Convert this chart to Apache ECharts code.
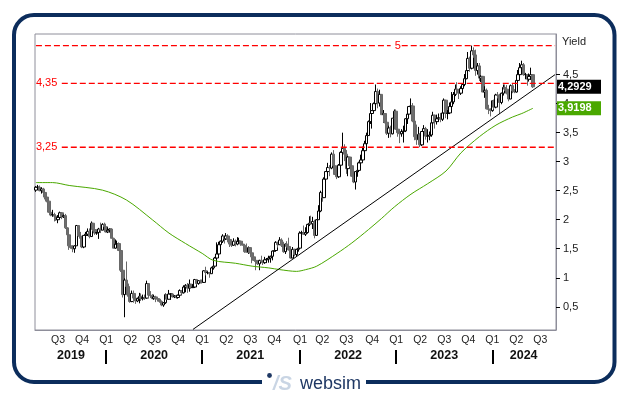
<!DOCTYPE html>
<html>
<head>
<meta charset="utf-8">
<script src="https://cdn.jsdelivr.net/npm/echarts@6/dist/echarts.min.js"></script>
<style>
html, body { margin: 0; padding: 0; background: #fff; }
#main { width: 630px; height: 397px; }
</style>
</head>
<body>
<div id="main"></div>
<script>
// weekly bars, first bar = week of Mon 8 Apr 2019
var firstWeek = Date.UTC(2019, 3, 8);
var totalWeeks = 282;
var firstOpen = 2.51;

var weekClose = [
    2.56,2.56,2.50,2.53,2.47,2.39,2.32,2.13,2.08,2.09,2.06,2.00,2.04,2.12,2.05,2.07,1.86,1.74,1.55,1.52,1.50,1.55,1.90,1.72,1.68,1.53,1.73,1.75,1.80,1.71,1.94,1.83,1.77,1.78,1.84,1.82,1.92,1.88,
    1.79,1.82,1.84,1.68,1.51,1.58,1.59,1.47,1.13,0.71,0.96,0.85,0.68,0.59,0.73,0.65,0.60,0.64,0.68,0.64,0.66,0.65,0.90,0.70,0.69,0.64,0.67,0.64,0.63,0.59,
    0.53,0.57,0.71,0.63,0.72,0.72,0.67,0.69,0.66,0.70,0.78,0.74,0.84,0.87,0.82,0.89,0.83,0.84,0.97,0.90,0.95,0.94,0.92,
    1.12,1.09,1.09,1.07,1.17,1.20,1.34,1.41,1.57,1.63,1.72,1.67,1.72,1.66,1.58,1.56,1.63,1.58,1.63,1.63,1.58,1.56,1.45,1.44,1.52,1.43,1.36,1.30,1.28,1.24,
    1.30,1.28,1.26,1.31,1.32,1.34,1.37,1.46,1.47,1.61,1.57,1.65,1.56,1.45,1.58,1.54,1.48,1.34,1.49,1.40,1.49,1.51,
    1.77,1.78,1.75,1.78,1.92,1.94,1.93,1.97,1.73,2.00,2.15,2.47,2.38,2.70,2.83,2.90,2.89,3.13,2.93,2.78,2.74,2.94,3.16,3.23,3.13,2.88,3.08,2.93,2.75,2.65,
    2.83,2.85,2.98,3.03,3.19,3.31,3.45,3.69,3.83,3.88,4.00,4.21,4.01,4.16,3.81,3.83,3.68,3.49,3.58,3.48,3.75,3.87,
    3.56,3.50,3.48,3.52,3.53,3.74,3.82,3.95,3.96,3.70,3.43,3.38,3.47,3.29,3.52,3.57,3.44,3.44,3.46,3.67,3.80,3.69,3.74,3.76,3.73,3.84,4.06,3.83,3.84,3.95,
    4.03,4.16,4.25,4.24,4.18,4.26,4.33,4.43,4.57,4.78,4.61,4.91,4.84,4.57,4.65,4.44,4.47,4.20,4.23,3.91,3.90,3.88,
    4.05,3.94,4.15,4.14,4.02,4.18,4.28,4.25,4.18,4.08,4.31,4.22,4.20,4.40,4.50,4.62,4.67,4.50,4.50,4.42,4.47,4.50,4.29
];
var weekHigh = [
    2.58,2.60,2.59,2.56,2.55,2.48,2.43,2.34,2.16,2.17,2.12,2.07,2.08,2.14,2.13,2.09,2.10,1.87,1.75,1.63,1.56,1.56,1.91,1.90,1.79,1.69,1.73,1.79,1.85,1.85,1.97,1.94,1.84,1.79,1.86,1.95,1.94,1.95,
    1.93,1.87,1.85,1.85,1.69,1.66,1.64,1.61,1.47,1.17,0.99,1.28,0.90,0.72,0.78,0.78,0.68,0.66,0.74,0.73,0.71,0.71,0.95,0.91,0.77,0.72,0.71,0.69,0.65,0.63,
    0.61,0.58,0.73,0.71,0.79,0.73,0.73,0.70,0.70,0.71,0.80,0.79,0.87,0.89,0.91,0.97,0.89,0.89,0.98,0.98,0.96,0.97,0.97,
    1.13,1.19,1.11,1.10,1.19,1.21,1.36,1.61,1.62,1.64,1.75,1.72,1.77,1.75,1.70,1.63,1.68,1.66,1.70,1.69,1.63,1.63,1.57,1.59,1.54,1.52,1.43,1.38,1.30,1.29,
    1.31,1.38,1.29,1.36,1.34,1.38,1.38,1.47,1.57,1.63,1.62,1.70,1.68,1.62,1.59,1.63,1.69,1.50,1.53,1.50,1.50,1.56,
    1.80,1.81,1.90,1.87,1.93,2.06,2.07,2.05,2.00,2.01,2.25,2.50,2.55,2.73,2.84,2.98,2.94,3.16,3.20,3.01,2.88,2.96,3.18,3.50,3.30,3.20,3.10,3.08,3.08,2.86,
    2.84,2.90,3.00,3.12,3.26,3.36,3.50,3.71,4.01,3.89,4.02,4.33,4.26,4.24,4.16,3.89,3.83,3.75,3.62,3.62,3.75,3.90,
    3.90,3.64,3.55,3.56,3.62,3.75,3.93,3.96,4.09,4.01,3.72,3.64,3.60,3.49,3.53,3.63,3.60,3.56,3.52,3.72,3.86,3.81,3.81,3.83,3.84,3.89,4.09,4.06,3.89,4.02,
    4.20,4.20,4.33,4.37,4.24,4.30,4.35,4.51,4.69,4.89,4.81,5.00,4.97,4.93,4.70,4.70,4.49,4.47,4.30,4.26,3.98,3.92,
    4.05,4.07,4.17,4.20,4.17,4.19,4.33,4.33,4.32,4.19,4.33,4.34,4.25,4.43,4.58,4.70,4.74,4.70,4.53,4.50,4.52,4.62,4.51
];
var weekLow = [
    2.48,2.53,2.49,2.45,2.41,2.35,2.30,2.12,2.06,2.05,1.97,1.98,1.94,2.02,2.01,2.03,1.84,1.60,1.48,1.50,1.44,1.43,1.55,1.71,1.63,1.51,1.51,1.70,1.72,1.68,1.71,1.80,1.74,1.74,1.67,1.77,1.82,1.87,
    1.78,1.77,1.78,1.68,1.51,1.50,1.55,1.46,1.10,0.66,0.32,0.70,0.66,0.57,0.58,0.57,0.55,0.58,0.56,0.60,0.61,0.62,0.64,0.65,0.65,0.64,0.62,0.58,0.59,0.57,
    0.51,0.50,0.55,0.62,0.63,0.62,0.66,0.65,0.64,0.64,0.68,0.71,0.73,0.75,0.74,0.76,0.82,0.83,0.83,0.88,0.88,0.90,0.90,
    0.91,1.04,1.06,1.00,1.07,1.14,1.20,1.33,1.38,1.47,1.60,1.59,1.65,1.61,1.53,1.53,1.55,1.54,1.56,1.60,1.55,1.56,1.43,1.44,1.41,1.42,1.25,1.29,1.13,1.22,
    1.13,1.27,1.22,1.24,1.26,1.26,1.26,1.30,1.45,1.45,1.52,1.57,1.53,1.43,1.41,1.52,1.47,1.33,1.34,1.37,1.37,1.45,
    1.50,1.70,1.74,1.72,1.76,1.89,1.91,1.84,1.68,1.72,2.00,2.13,2.31,2.38,2.63,2.82,2.75,2.87,2.82,2.77,2.70,2.72,2.93,3.16,3.01,2.79,2.75,2.90,2.74,2.63,
    2.52,2.74,2.82,2.96,3.02,3.14,3.30,3.45,3.65,3.57,3.87,3.99,3.92,3.95,3.81,3.67,3.66,3.46,3.41,3.42,3.47,3.73,
    3.55,3.43,3.32,3.43,3.33,3.51,3.65,3.81,3.90,3.68,3.37,3.29,3.38,3.25,3.27,3.51,3.38,3.33,3.37,3.43,3.66,3.57,3.64,3.69,3.68,3.70,3.80,3.75,3.73,3.82,
    3.94,3.99,4.13,4.16,4.08,4.15,4.24,4.30,4.42,4.57,4.55,4.59,4.79,4.48,4.50,4.39,4.37,4.20,4.10,3.90,3.82,3.78,
    3.86,3.90,3.92,4.09,3.82,3.99,4.14,4.22,4.16,4.04,4.08,4.18,4.18,4.19,4.35,4.50,4.56,4.48,4.42,4.31,4.38,4.41,4.27
];

// moving average (week index, value)
var maWeek  = [0,9,18,36,49,63,72,81,90,96,108,117,126,132,141,146,152,163,171,180,187,194,203,212,222,230,240,249,258,263,269];
var maValue = [2.64,2.64,2.59,2.51,2.34,2.00,1.77,1.59,1.42,1.30,1.25,1.20,1.17,1.14,1.11,1.14,1.20,1.42,1.60,1.83,2.02,2.22,2.44,2.62,2.84,3.15,3.43,3.63,3.77,3.83,3.92];

var trendWeek  = [85, 281];
var trendValue = [0.11, 4.50];

// horizontal levels
var levelValue = [4.35, 3.25];
var levelLabel = ['4,35', '3,25'];
var topLevel = 5;

var yTicks = [0.5, 1, 1.5, 2, 2.5, 3, 3.5, 4, 4.5];
var lastPrice = 4.2929;
var lastMa = 3.9198;

var DAY = 86400000;
var categories = [];
for (var i = 0; i < totalWeeks; i++) {
    categories.push(new Date(firstWeek + i * 7 * DAY).toISOString().slice(0, 10));
}
function weekOf(y, m, d) {
    return Math.round((Date.UTC(y, m, d) - firstWeek - 1.5 * DAY) / (7 * DAY));
}

var quarterAt = {}, yearSep = {}, yearLabel = {};
for (var y = 2019; y <= 2024; y++) {
    for (var q = 0; q < 4; q++) {
        var k = weekOf(y, q * 3, 1);
        if (k >= 0 && k < totalWeeks) quarterAt[k] = 'Q' + (q + 1);
    }
    var a = weekOf(y, 0, 1), b = weekOf(y + 1, 0, 1) - 1;
    if (a > 0) yearSep[a] = true;
    yearLabel[Math.round((Math.max(a, 0) + Math.min(b, totalWeeks - 1)) / 2)] = String(y);
}

var candles = [];
for (var i = 0; i < weekClose.length; i++) {
    var o = i == 0 ? firstOpen : weekClose[i - 1];
    var c = weekClose[i];
    candles.push([o, c, Math.min(weekLow[i], o, c), Math.max(weekHigh[i], o, c)]);
}
var maData = maWeek.map(function (w, i) { return [w, maValue[i]]; });
var trendData = trendWeek.map(function (w, i) { return [w, trendValue[i]]; });

var FONT = '"Liberation Sans", Arial, sans-serif';
var red = '#ff0000';
var dash = { color: red, type: [6, 3], width: 1.4, opacity: 1 };

// one dashed line series per level
function levelSeries(from, to, v, text, pos) {
    return {
        type: 'line',
        data: [[from, v], [to, v]],
        showSymbol: false,
        silent: true,
        color: red,
        lineStyle: dash,
        z: 5,
        label: { show: false },
        endLabel: text && pos == 'end' ? { show: true, formatter: text, distance: 4, color: red, fontSize: 11, fontFamily: FONT } : { show: false },
        markPoint: text && pos == 'start' ? {
            symbol: 'rect', symbolSize: 1, silent: true,
            itemStyle: { color: 'rgba(0,0,0,0)' },
            label: { show: true, position: 'left', distance: 4, formatter: text, color: red, fontSize: 11, fontFamily: FONT },
            data: [{ coord: [from, v] }]
        } : undefined
    };
}

var chart = echarts.init(document.getElementById('main'));
var series = [{
    type: 'candlestick',
    data: candles,
    barWidth: 3,
    itemStyle: { color: '#ffffff', color0: '#6e6e6e', borderColor: '#000000', borderColor0: '#686868', borderColorDoji: '#000000', borderWidth: 1 }
}, {
    type: 'line',
    data: maData,
    showSymbol: false,
    smooth: 0.3,
    color: '#4aa800',
    lineStyle: { color: '#4aa800', width: 1 },
    z: 3
}, {
    type: 'line',
    data: trendData,
    showSymbol: false,
    color: '#000',
    lineStyle: { color: '#000', width: 1 },
    z: 4
}];
series.push(levelSeries(0, 192, topLevel, '5', 'end'));
series.push(levelSeries(198, 281, topLevel, null));
for (var j = 0; j < levelValue.length; j++) {
    series.push(levelSeries(14, 281, levelValue[j], levelLabel[j], 'start'));
}

var option = {
    animation: false,
    grid: { left: 35, right: 74, top: 34, bottom: 67, show: true, borderColor: '#8e8e9a', borderWidth: 1, backgroundColor: '#fff' },
    xAxis: [{
        type: 'category',
        data: categories,
        axisLine: { show: true, lineStyle: { color: '#8e8e9a' } },
        axisTick: { alignWithLabel: true, length: 3, interval: function (i) { return quarterAt[i] !== undefined; }, lineStyle: { color: '#000' } },
        axisLabel: {
            interval: function (i) { return quarterAt[i] !== undefined; },
            formatter: function (v, i) { return quarterAt[i]; },
            margin: 5, fontSize: 10.5, color: '#222', fontFamily: FONT
        },
        splitLine: { show: false }
    }, {
        type: 'category',
        data: categories,
        position: 'bottom',
        offset: 20,
        axisLine: { show: false },
        axisTick: { show: true, alignWithLabel: true, length: 14, interval: function (i) { return yearSep[i] === true; }, lineStyle: { color: '#000', width: 2 } },
        axisLabel: {
            interval: function (i) { return yearLabel[i] !== undefined; },
            formatter: function (v, i) { return yearLabel[i]; },
            margin: -1, fontSize: 12.5, fontWeight: 'bold', color: '#111', fontFamily: FONT
        },
        splitLine: { show: false }
    }],
    yAxis: {
        type: 'value',
        position: 'right',
        min: 0.1,
        max: 5.2,
        axisLine: { show: true, lineStyle: { color: '#8e8e9a' } },
        axisTick: { show: true, customValues: yTicks, length: 4, lineStyle: { color: '#000' } },
        axisLabel: {
            customValues: yTicks,
            formatter: function (v) { return String(v).replace('.', ','); },
            margin: 7, fontSize: 11, color: '#222', fontFamily: FONT
        },
        splitLine: { show: false }
    },
    series: series
};
chart.setOption(option);

function tag(v, bg) {
    var py = chart.convertToPixel({ yAxisIndex: 0 }, v);
    return [
        { type: 'rect', z: 100, shape: { x: 557, y: py - 7, width: 44, height: 14 }, style: { fill: bg } },
        { type: 'text', z: 101, style: { text: String(v).replace('.', ','), x: 558, y: py, verticalAlign: 'middle', font: 'bold 11px ' + FONT, fill: '#fff' } }
    ];
}

var g = [
    { type: 'rect', shape: { x: 14, y: 15, width: 600.5, height: 367, r: 20 }, style: { fill: 'none', stroke: '#0c2d5c', lineWidth: 4 } },
    { type: 'rect', shape: { x: 262, y: 377, width: 104, height: 10 }, style: { fill: '#fff' } },
    { type: 'circle', shape: { cx: 269.5, cy: 375.5, r: 2.4 }, style: { fill: '#1f3864' } },
    { type: 'text', style: { text: '/S', x: 273, y: 384, verticalAlign: 'middle', font: 'italic bold 20px ' + FONT, fill: '#c9d5e4' } },
    { type: 'text', style: { text: 'websim', x: 300, y: 384, verticalAlign: 'middle', font: '18px ' + FONT, fill: '#1f3864' } },
    { type: 'text', style: { text: 'Yield', x: 562, y: 42, verticalAlign: 'middle', font: '11px ' + FONT, fill: '#222' } }
].concat(tag(lastPrice, '#000'), tag(lastMa, '#4aa800'));

chart.setOption({ graphic: g });
</script>
</body>
</html>
